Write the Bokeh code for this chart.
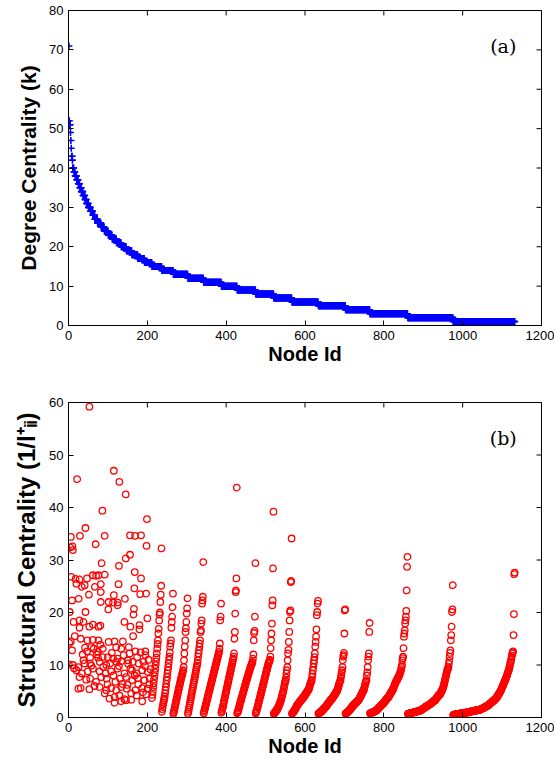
from bokeh.plotting import figure
from bokeh.models import Label, FixedTicker, Range1d
from bokeh.layouts import column
from bokeh.embed import file_html
from bokeh.resources import INLINE

# ---------------- data ----------------
# (a) degree sequence, sorted descending, as (degree, number of nodes)
degree_values = [71, 52, 51, 49, 47, 45, 43, 42, 40, 39, 38, 37, 36, 35, 34, 33, 32, 31, 30, 29,
                 28, 27, 26, 25, 24, 23, 22, 21, 20, 19, 18, 17, 16, 15, 14, 13, 12, 11, 10, 9,
                 8, 7, 6, 5, 4, 3, 2, 1]
degree_counts = [1, 1, 2, 1, 1, 1, 2, 1, 3, 3, 4, 4, 4, 4, 4, 5, 4, 5, 5, 6,
                 5, 7, 9, 8, 10, 10, 11, 12, 13, 14, 15, 17, 19, 25, 29, 37, 40, 45, 40, 47,
                 46, 46, 67, 69, 62, 96, 115, 157]

# (b) structural centrality, high-degree nodes (node id, value)
head_nodes = [53, 115, 22, 129, 145, 86, 199, 43, 6, 29, 92, 156, 169, 184, 69, 198, 5, 10, 11, 156, 145, 84, 128, 168,
              7, 28, 47, 62, 70, 76, 92, 184,
              20, 34, 41, 67, 82, 127, 167,
              52, 82, 115, 197, 182, 143,
              9, 26, 82, 102, 113, 125,
              125, 101, 166,
              3, 43, 165,
              200, 13, 28, 38, 142, 62, 76, 81, 157, 180, 53,
              28, 180, 164,
              6, 31, 48, 62, 76, 81, 102, 117, 138,
              9, 42, 47, 58, 64, 75, 87, 121, 134, 153, 170, 195,
              38, 55, 75, 87, 100, 113, 125, 151, 174, 195,
              1, 11, 25, 41, 55, 79, 96, 106, 121, 134, 151, 163, 178, 190,
              20, 34, 49, 62, 79, 94, 108, 125, 142, 157, 173, 187, 201,
              28, 45, 55, 70, 83, 97, 114, 131, 146, 162, 176, 193, 206,
              25, 31, 53, 66, 79, 96, 108, 121, 134, 148, 170, 187, 201,
              92, 104, 117, 129, 142, 159, 173, 197,
              117, 134, 146, 159, 187,
              58, 72, 88, 99, 110, 119, 128, 137, 140, 150, 155, 161, 168, 177, 183, 189, 194, 203, 205, 208,
              36, 16, 14, 18, 2]
head_values = [59.2, 47.0, 45.4, 44.9, 42.5, 39.4, 37.8, 36.1, 34.4, 34.6, 34.6, 34.7, 34.6, 34.7, 33.0, 32.7, 32.4, 32.6, 31.9, 31.0, 30.3, 29.4, 28.9, 27.7,
               26.8, 26.3, 26.5, 27.1, 27.0, 27.1, 27.2, 26.5,
               25.5, 24.9, 25.2, 24.9, 25.4, 25.4, 24.6,
               23.4, 23.9, 23.3, 23.6, 23.5, 22.6,
               22.3, 22.6, 22.0, 22.0, 21.9, 21.9,
               21.4, 20.6, 20.7,
               20.1, 20.1, 19.6,
               18.9, 18.2, 18.5, 18.2, 18.2, 17.7, 17.3, 17.5, 17.3, 17.6, 17.3,
               17.1, 16.8, 15.5,
               14.5, 15.0, 14.7, 14.8, 14.7, 13.9, 14.4, 14.5, 14.5,
               12.8, 13.3, 12.6, 13.4, 13.1, 12.5, 13.1, 13.4, 13.1, 13.4, 12.6, 12.6,
               10.9, 11.4, 11.4, 11.5, 11.5, 11.2, 11.2, 10.9, 11.5, 11.9,
               10.1, 10.0, 9.6, 10.3, 10.3, 10.6, 10.0, 10.3, 10.6, 10.7, 10.3, 10.6, 10.3, 10.6,
               9.0, 8.4, 8.8, 9.3, 8.8, 8.4, 8.8, 9.3, 8.4, 9.3, 8.4, 9.0, 8.7,
               7.7, 7.2, 7.4, 6.8, 7.7, 7.4, 8.0, 7.4, 7.7, 7.1, 7.5, 7.1, 7.4,
               5.5, 5.6, 5.4, 6.0, 5.8, 5.2, 5.6, 5.2, 5.8, 5.5, 5.2, 5.6, 5.5,
               4.6, 3.6, 3.9, 4.2, 3.5, 4.6, 4.2, 4.4,
               2.8, 3.1, 3.3, 3.4, 3.1,
               9.9, 12.0, 9.6, 6.3, 12.3, 6.8, 9.8, 6.4, 11.9, 6.2, 12.2, 9.0, 8.0, 6.3, 12.4, 4.8, 9.8, 11.0, 6.3, 9.2,
               12.0, 15.5, 9.4, 26.4, 14.2]

# (b) structural centrality of the nodes of each low degree, in node order
sc_deg15 = [3.7, 4.3, 5.0, 5.8, 6.5, 7.2, 7.9, 8.6, 9.3, 10.0, 10.7, 11.4, 12.2, 13.1, 14.0, 14.7, 16.0, 16.9,
            18.5, 19.6, 20.0, 22.0, 23.4, 25.1, 32.2]
sc_deg14 = [1.1, 1.6, 2.0, 2.5, 2.9, 3.3, 3.6, 4.0, 4.6, 5.2, 5.8, 6.4, 7.1, 7.7, 8.4, 9.0, 9.6, 10.3, 11.0, 11.6,
            12.4, 13.5, 14.1, 14.7, 17.1, 18.2, 19.2, 21.0, 23.6]
sc_deg13 = [0.7, 1.0, 1.3, 1.6, 2.0, 2.4, 2.7, 3.1, 3.4, 3.8, 4.1, 4.5, 4.8, 5.2, 5.5, 5.9, 6.2, 6.5, 6.9, 7.2,
            7.5, 7.8, 8.1, 8.4, 8.7, 9.0, 9.6, 10.9, 12.2, 13.5, 14.7, 16.3, 17.0, 18.2, 19.8, 20.8, 22.7]
sc_deg12 = [0.7, 1.1, 1.5, 1.9, 2.3, 2.7, 3.1, 3.5, 3.9, 4.3, 4.7, 5.1, 5.5, 5.9, 6.3, 6.7, 7.1, 7.5, 7.9, 8.3,
            8.7, 9.1, 9.5, 9.9, 10.3, 10.9, 11.6, 12.2, 12.8, 13.5, 14.1, 14.7, 16.3, 16.6, 17.9, 18.5, 21.7,
            22.3, 23.0, 29.6]
sc_deg11 = [0.8, 1.1, 1.4, 1.7, 2.0, 2.3, 2.6, 2.9, 3.2, 3.5, 3.8, 4.1, 4.4, 4.7, 5.0, 5.3, 5.6, 5.9, 6.2, 6.5,
            6.8, 7.1, 7.4, 7.7, 8.0, 8.3, 8.6, 8.9, 9.2, 9.5, 9.8, 10.1, 10.4, 10.7, 11.0, 11.3, 11.6, 11.9,
            12.2, 12.5, 13.1, 14.1, 18.5, 19.2, 21.7]
sc_deg10 = [0.9, 1.2, 1.5, 1.8, 2.1, 2.5, 2.9, 3.2, 3.6, 3.9, 4.3, 4.6, 5.0, 5.3, 5.7, 6.0, 6.4, 6.7, 7.1, 7.4,
            7.8, 8.1, 8.4, 8.8, 9.1, 9.5, 9.8, 10.2, 10.5, 10.9, 11.2, 11.6, 12.2, 15.0, 16.3, 19.8, 23.9,
            24.2, 26.5, 43.8]
sc_deg9 = [0.8, 1.0, 1.2, 1.4, 1.7, 2.0, 2.3, 2.6, 2.9, 3.1, 3.4, 3.7, 3.9, 4.2, 4.5, 4.7, 5.0, 5.3, 5.5, 5.8,
           6.1, 6.3, 6.6, 6.9, 7.1, 7.4, 7.6, 7.9, 8.1, 8.4, 8.6, 8.9, 9.1, 9.4, 9.6, 9.8, 10.0, 10.2, 10.4,
           10.6, 11.2, 12.0, 14.7, 16.1, 16.5, 19.2, 29.4]
sc_deg8 = [0.8, 1.0, 1.2, 1.5, 1.8, 2.1, 2.4, 2.7, 3.0, 3.3, 3.6, 3.9, 4.2, 4.5, 4.8, 5.1, 5.4, 5.7, 6.0, 6.3,
           6.6, 6.9, 7.2, 7.5, 7.8, 8.1, 8.4, 8.7, 9.0, 9.3, 9.6, 9.9, 10.2, 10.4, 10.6, 10.8, 11.0, 11.6,
           13.2, 14.7, 16.0, 17.9, 21.4, 22.3, 28.4, 39.2]
sc_deg7 = [0.7, 0.8, 0.9, 1.0, 1.1, 1.2, 1.3, 1.4, 1.5, 1.65, 1.8, 1.95, 2.1, 2.3, 2.5, 2.7, 2.85, 3.0, 3.3, 3.6,
           3.9, 4.2, 4.5, 4.75, 5.0, 5.4, 5.8, 6.2, 6.6, 6.9, 7.1, 7.6, 8.4, 9.0, 9.6, 10.9, 12.2, 12.9, 14.4,
           16.3, 18.5, 20.1, 20.4, 25.8, 26.0, 34.1]
sc_deg6 = [0.75, 0.82, 0.9, 1.0, 1.1, 1.2, 1.32, 1.44, 1.56, 1.7, 1.84, 1.98, 2.14, 2.3, 2.4, 2.5, 2.6, 2.7, 2.8,
           2.9, 3.0, 3.1, 3.2, 3.3, 3.4, 3.5, 3.58, 3.66, 3.74, 3.82, 3.9, 4.02, 4.14, 4.26, 4.38, 4.5, 4.62,
           4.74, 4.86, 4.98, 5.1, 5.22, 5.36, 5.5, 5.75, 6.0, 6.25, 6.5, 6.75, 6.95, 7.1, 7.7, 8.3, 9.0, 9.6,
           10.3, 10.9, 11.5, 12.2, 13.5, 14.4, 15.4, 16.8, 19.5, 20.1, 21.7, 22.2]
sc_deg5 = [0.75, 0.8, 0.85, 0.9, 0.95, 1.0, 1.05, 1.1, 1.18, 1.26, 1.34, 1.42, 1.5, 1.58, 1.66, 1.74, 1.82, 1.91,
           2.0, 2.1, 2.2, 2.3, 2.4, 2.5, 2.6, 2.7, 2.8, 2.9, 3.0, 3.1, 3.2, 3.3, 3.4, 3.47, 3.54, 3.6, 3.72,
           3.84, 3.96, 4.08, 4.2, 4.32, 4.44, 4.56, 4.68, 4.8, 4.93, 5.06, 5.2, 5.45, 5.7, 5.95, 6.2, 6.45,
           6.7, 6.9, 7.1, 7.6, 8.1, 8.6, 9.0, 9.6, 10.9, 11.6, 11.9, 12.3, 16.0, 20.4, 20.6]
sc_deg4 = [0.75, 0.8, 0.85, 0.9, 0.95, 1.0, 1.08, 1.16, 1.24, 1.32, 1.4, 1.48, 1.56, 1.64, 1.76, 1.88, 2.0, 2.08,
           2.16, 2.24, 2.32, 2.4, 2.48, 2.56, 2.64, 2.72, 2.8, 2.88, 2.96, 3.04, 3.12, 3.2, 3.25, 3.3, 3.45,
           3.6, 3.75, 3.9, 4.05, 4.2, 4.35, 4.5, 4.65, 4.8, 4.95, 5.1, 5.2, 5.5, 5.8, 6.1, 6.4, 6.7, 6.9, 7.1,
           8.0, 8.6, 9.6, 10.9, 11.6, 12.2, 16.3, 18.0]
sc_deg3 = [0.8, 0.82, 0.85, 0.88, 0.9, 0.93, 0.96, 1.0, 1.03, 1.07, 1.1, 1.14, 1.18, 1.22, 1.26, 1.3, 1.35, 1.4,
           1.48, 1.56, 1.64, 1.72, 1.8, 1.88, 1.96, 2.04, 2.12, 2.2, 2.28, 2.36, 2.44, 2.52, 2.58, 2.64, 2.7,
           2.8, 2.9, 3.0, 3.1, 3.2, 3.3, 3.4, 3.5, 3.6, 3.7, 3.75, 3.82, 3.9, 4.05, 4.2, 4.35, 4.5, 4.6, 4.7,
           4.8, 4.95, 5.1, 5.2, 5.35, 5.5, 5.7, 5.9, 6.1, 6.3, 6.5, 6.7, 6.85, 7.0, 7.1, 7.25, 7.4, 7.55, 7.7,
           7.85, 8.0, 8.2, 8.4, 8.6, 8.9, 9.2, 9.6, 10.0, 10.9, 11.3, 11.6, 13.2, 15.4, 16.0, 16.6, 17.9, 18.5,
           19.2, 20.3, 24.2, 28.7, 30.6]
sc_deg2 = [0.7, 0.7, 0.72, 0.74, 0.76, 0.78, 0.8, 0.82, 0.84, 0.86, 0.88, 0.9, 0.92, 0.94, 0.96, 0.98, 1.0, 1.02,
           1.04, 1.06, 1.08, 1.1, 1.12, 1.14, 1.16, 1.18, 1.2, 1.22, 1.24, 1.26, 1.28, 1.3, 1.35, 1.4, 1.45,
           1.5, 1.55, 1.6, 1.65, 1.7, 1.75, 1.8, 1.85, 1.9, 1.95, 2.0, 2.05, 2.1, 2.15, 2.2, 2.25, 2.28, 2.3,
           2.36, 2.42, 2.48, 2.54, 2.6, 2.66, 2.72, 2.78, 2.84, 2.9, 2.96, 3.02, 3.08, 3.14, 3.2, 3.25, 3.3,
           3.4, 3.5, 3.6, 3.7, 3.8, 3.9, 4.0, 4.1, 4.2, 4.3, 4.35, 4.4, 4.5, 4.65, 4.8, 4.95, 5.1, 5.25, 5.4,
           5.6, 5.8, 6.1, 6.4, 6.7, 7.1, 7.4, 7.7, 8.0, 8.4, 8.7, 9.0, 9.2, 9.4, 9.6, 10.2, 10.8, 11.6, 12.3,
           12.8, 14.7, 15.7, 17.3, 20.1, 20.6, 25.2]
sc_deg1 = [0.45, 0.5, 0.5, 0.55, 0.55, 0.6, 0.6, 0.6, 0.65, 0.65, 0.65, 0.7, 0.7, 0.7, 0.7, 0.75, 0.75, 0.75,
           0.75, 0.8, 0.8, 0.8, 0.8, 0.8, 0.85, 0.85, 0.85, 0.85, 0.9, 0.9, 0.9, 0.9, 0.9, 0.95, 0.95, 0.95,
           0.95, 1.0, 1.0, 1.0, 1.0, 1.05, 1.05, 1.1, 1.1, 1.1, 1.15, 1.15, 1.2, 1.2, 1.2, 1.25, 1.25, 1.25,
           1.3, 1.3, 1.3, 1.3, 1.35, 1.35, 1.35, 1.4, 1.4, 1.4, 1.4, 1.45, 1.45, 1.5, 1.5, 1.55, 1.6, 1.6,
           1.65, 1.7, 1.7, 1.75, 1.8, 1.8, 1.85, 1.9, 1.95, 2.0, 2.0, 2.05, 2.1, 2.15, 2.2, 2.25, 2.3, 2.35,
           2.4, 2.45, 2.5, 2.6, 2.7, 2.75, 2.8, 2.85, 2.9, 3.0, 3.05, 3.1, 3.2, 3.25, 3.3, 3.4, 3.45, 3.5,
           3.6, 3.7, 3.8, 3.9, 4.0, 4.1, 4.25, 4.4, 4.5, 4.6, 4.75, 4.9, 5.0, 5.15, 5.3, 5.5, 5.7, 5.9, 6.0,
           6.2, 6.4, 6.6, 6.8, 6.95, 7.1, 7.3, 7.5, 7.7, 7.9, 8.1, 8.4, 8.6, 8.8, 9.0, 9.3, 9.6, 10.0, 10.4,
           10.6, 11.0, 11.5, 11.8, 12.2, 12.4, 12.6, 15.7, 19.7, 27.3, 27.6]
sc_groups = {15: sc_deg15, 14: sc_deg14, 13: sc_deg13, 12: sc_deg12, 11: sc_deg11, 10: sc_deg10,
             9: sc_deg9, 8: sc_deg8, 7: sc_deg7, 6: sc_deg6, 5: sc_deg5, 4: sc_deg4, 3: sc_deg3,
             2: sc_deg2, 1: sc_deg1}

x_ticks = [0, 200, 400, 600, 800, 1000, 1200]
ya_ticks = [0, 10, 20, 30, 40, 50, 60, 70, 80]
yb_ticks = [0, 10, 20, 30, 40, 50, 60]

# ---------------- derived node ids ----------------
top_x, top_y, start_of = [], [], {}
n = 0
for d, c in zip(degree_values, degree_counts):
    start_of[d] = n + 1
    for _ in range(c):
        n += 1
        top_x.append(n)
        top_y.append(d)

bot_x = list(head_nodes[:len(head_values)])
bot_y = list(head_values[:len(bot_x)])
for d, vals in sc_groups.items():
    for i, v in enumerate(vals):
        bot_x.append(start_of[d] + i)
        bot_y.append(v)

FONT = "Liberation Sans"
FRAME_W, FRAME_H = 473, 315
TICK_LEN = 5
XMAX = 1200


def make_fig(ymax, yticks, ylabel, ylabel_size, border_top, border_bottom):
    p = figure(x_range=Range1d(0, XMAX), y_range=Range1d(0, ymax),
               frame_width=FRAME_W, frame_height=FRAME_H,
               min_border_left=68, min_border_right=13,
               min_border_top=border_top, min_border_bottom=border_bottom,
               output_backend="svg", toolbar_location=None,
               background_fill_color="white", border_fill_color="white")
    p.grid.visible = False
    p.outline_line_color = "black"
    p.outline_line_width = 1
    for ax in (p.xaxis[0], p.yaxis[0]):
        ax.major_tick_in = TICK_LEN
        ax.major_tick_out = 0
        ax.minor_tick_line_color = None
        ax.major_label_text_font = FONT
        ax.major_label_text_font_size = "13px"
        ax.major_label_text_color = "black"
        ax.axis_label_text_font = FONT
        ax.axis_label_text_font_style = "bold"
        ax.axis_label_text_color = "black"
    p.xaxis.axis_label_text_font_size = "20px"
    p.yaxis.axis_label_text_font_size = ylabel_size
    p.xaxis.ticker = FixedTicker(ticks=x_ticks)
    p.yaxis.ticker = FixedTicker(ticks=yticks)
    p.xaxis.major_label_standoff = 5
    p.yaxis.major_label_standoff = 5
    p.xaxis.axis_label = "Node Id"
    p.xaxis.axis_label_standoff = 0
    p.yaxis.axis_label = ylabel
    p.yaxis.axis_label_standoff = 6
    # inward ticks on the top and right edges of the box (MATLAB style)
    dy = TICK_LEN * ymax / FRAME_H
    dx = TICK_LEN * XMAX / FRAME_W
    p.segment(x0=x_ticks, y0=[ymax] * len(x_ticks), x1=x_ticks, y1=[ymax - dy] * len(x_ticks),
              line_color="black", line_width=1)
    p.segment(x0=[XMAX] * len(yticks), y0=yticks, x1=[XMAX - dx] * len(yticks), y1=yticks,
              line_color="black", line_width=1)
    return p


pa = make_fig(80, ya_ticks, "Degree Centrality (k)", "21px", 10, 64)
pa.scatter(top_x, top_y, marker="cross", size=7, line_color="#0000ff", line_width=1.6)
pa.add_layout(Label(x=1103, y=71.1, text="(a)", text_font="DejaVu Serif", text_font_size="19px",
                    text_align="center", text_baseline="middle", text_color="black"))

pb = make_fig(60, yb_ticks, "Structural Centrality (1/l\u207a\u1d62\u1d62)", "24px", 13, 43)
pb.scatter(bot_x, bot_y, marker="circle", size=6.5, fill_color=None, line_color="#ff0000", line_width=1.3)
pb.add_layout(Label(x=1103, y=53.3, text="(b)", text_font="DejaVu Serif", text_font_size="19px",
                    text_align="center", text_baseline="middle", text_color="black"))

layout = column(pa, pb, spacing=0)
open("out.html", "w").write(file_html(layout, INLINE))
